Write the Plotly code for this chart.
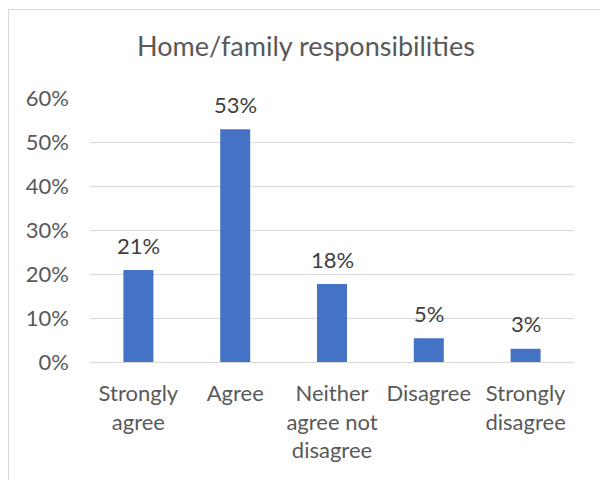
import plotly.graph_objects as go

categories = ["Strongly<br>agree", "Agree", "Neither<br>agree not<br>disagree", "Disagree", "Strongly<br>disagree"]
shares = [0.209, 0.529, 0.177, 0.054, 0.030]
tick_values = [0, 0.1, 0.2, 0.3, 0.4, 0.5, 0.6]
tick_labels = ["0%", "10%", "20%", "30%", "40%", "50%", "60%"]
title_text = "Home/family responsibilities"

FONT = "Lato, 'Open Sans', sans-serif"
TEXT_GREY = "#595959"

fig = go.Figure()
fig.add_trace(go.Bar(
    x=categories,
    y=shares,
    marker=dict(color="#4472C4", line=dict(width=0)),
    hoverinfo="skip",
))

# value labels above each bar, formatted from the bar value itself
for cat, val in zip(categories, shares):
    fig.add_annotation(
        x=cat, y=val, xref="x", yref="y",
        text=f"{val:.0%}",
        showarrow=False,
        yanchor="middle",
        yshift=25,
        font=dict(family=FONT, size=22, color="#404040"),
    )

W, H = 600, 480
ml, mr, mt, mb = 90, 26, 98, 118
pw, ph = W - ml - mr, H - mt - mb

def px_to_paper_x(px):
    return (px - ml) / pw

def px_to_paper_y(py):
    return (H - mb - py) / ph

# outer chart frame
fig.add_shape(
    type="rect", xref="paper", yref="paper",
    x0=px_to_paper_x(8.5), x1=px_to_paper_x(620),
    y0=px_to_paper_y(500), y1=px_to_paper_y(9.5),
    line=dict(color="#d9d9d9", width=1.2),
    fillcolor="rgba(0,0,0,0)", layer="below",
)

fig.update_layout(
    width=W, height=H,
    margin=dict(l=ml, r=mr, t=mt, b=mb),
    paper_bgcolor="white",
    plot_bgcolor="white",
    showlegend=False,
    bargap=0.69,
    title=dict(
        text=title_text,
        x=306 / W, xref="container", xanchor="center",
        y=1 - 47 / H, yref="container", yanchor="middle",
        font=dict(family=FONT, size=27, color=TEXT_GREY),
    ),
    xaxis=dict(
        showgrid=False, showline=False, ticks="", zeroline=False,
        ticklabelstandoff=16,
        tickfont=dict(family=FONT, size=22, color=TEXT_GREY),
        fixedrange=True,
    ),
    yaxis=dict(
        range=[0, 0.6],
        tickvals=tick_values, ticktext=tick_labels,
        showgrid=True, gridcolor="#d9d9d9", gridwidth=1.2,
        zeroline=True, zerolinecolor="#d9d9d9", zerolinewidth=1.2,
        showline=False, ticks="",
        ticklabelstandoff=20,
        tickfont=dict(family=FONT, size=22, color=TEXT_GREY),
        fixedrange=True,
    ),
)

fig.write_html("out.html")
